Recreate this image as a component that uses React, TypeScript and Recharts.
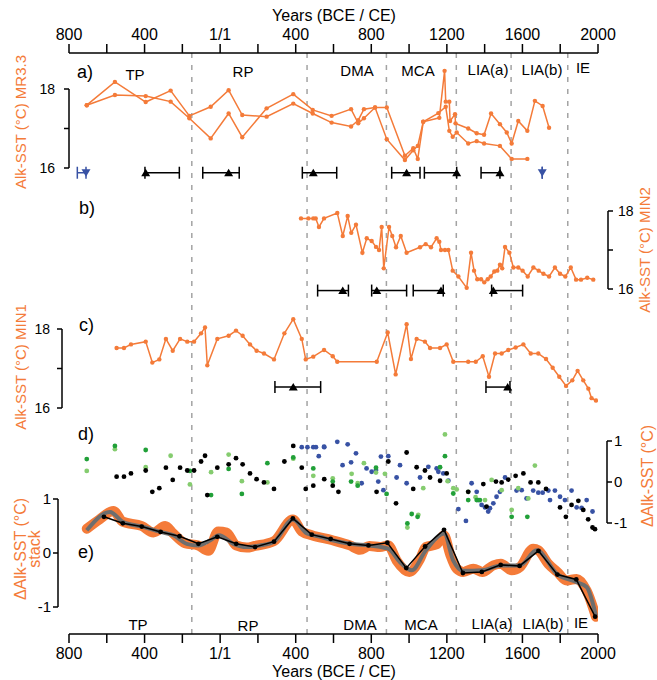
import React from "react";
import {
  ComposedChart,
  ErrorBar,
  Line,
  ReferenceLine,
  Scatter,
  XAxis,
  YAxis,
} from "recharts";

const FONT = '"Liberation Sans", Arial, Helvetica, sans-serif';
const ORANGE = "#f47b39";
const GRAY = "#6e6e6e";
const DASH = "#a3a3a3";
const BLUE = "#3852a4";
const DKGREEN = "#21a038";
const LTGREEN = "#85cc6f";

// frame (pixels)
const W = 657;
const H = 680;
const PLOT_TOP = 53;
const PLOT_BOTTOM = 634;
const PLOT_LEFT = 69;
const PLOT_RIGHT = 598;
const X_MIN = -800;
const X_MAX = 2000;
const PX_PER_YEAR = (PLOT_RIGHT - PLOT_LEFT) / (X_MAX - X_MIN);

// y axis ids; recharts stacks side axes in id order, so the names keep them in place
const AX_A = "l1";
const AX_C = "l2";
const AX_E = "l3";
const AX_SP = "r1";
const AX_D = "r2";
const AX_B = "r3";

// period boundaries (years CE)
const boundaries = [-150, 460, 880, 1250, 1540, 1840];
const xTicks = [-800, -600, -400, -200, 0, 200, 400, 600, 800, 1000, 1200, 1400, 1600, 1800, 2000];

// a) MR3.3, two age models
const mr33A = [
  [-706, 17.59], [-557, 18.18], [-394, 17.67], [-262, 17.96], [-163, 17.32], [-50, 17.55],
  [45, 17.97], [117, 17.34], [246, 17.3], [387, 17.63], [490, 17.38], [590, 17.15],
  [693, 17.05], [731, 17.21], [761, 17.49], [820, 17.53], [882, 17.53], [978, 16.31],
  [1022, 16.5], [1046, 16.23], [1075, 17.17], [1160, 17.27], [1188, 18.46], [1194, 17.68],
  [1213, 17.68], [1217, 17.19], [1243, 17.36], [1246, 17.13], [1313, 17.0], [1358, 16.88],
  [1397, 16.84], [1434, 17.38], [1481, 17.11], [1517, 16.9], [1543, 16.62], [1578, 17.19],
  [1626, 16.94], [1666, 17.7], [1707, 17.57], [1741, 17.02],
];
const mr33B = [
  [-706, 17.59], [-557, 17.85], [-394, 17.82], [-262, 17.68], [-163, 17.26], [-50, 16.75],
  [45, 17.38], [117, 16.78], [246, 17.51], [387, 17.87], [490, 17.47], [590, 17.32],
  [693, 17.49], [731, 17.13], [761, 17.26], [820, 17.53], [882, 16.73], [978, 16.2],
  [1022, 16.45], [1046, 16.56], [1075, 17.17], [1155, 17.39], [1194, 17.55], [1213, 16.94],
  [1231, 16.79], [1252, 16.9], [1313, 16.62], [1358, 16.68], [1397, 16.62], [1481, 16.56],
  [1543, 16.23], [1626, 16.23],
];
// age control points: [year, minus, plus]
const agesA = [[-394, 4, 178], [45, 137, 56], [493, 58, 124], [987, 79, 71], [1252, 171, 0], [1481, 100, 0]];
const agesABlue = [[-710, 46, 0], [1705, 0, 0]];

// b) MIN2
const min2 = [
  [428, 17.81], [467, 17.81], [493, 17.81], [506, 17.81], [523, 17.59], [550, 17.81],
  [620, 17.95], [649, 17.36], [675, 17.87], [694, 17.44], [719, 17.65], [753, 16.93],
  [776, 17.3], [802, 17.23], [825, 17.08], [841, 17.0], [855, 17.59], [866, 16.53],
  [894, 17.59], [911, 17.36], [931, 17.07], [956, 17.36], [987, 16.93], [1058, 17.07],
  [1088, 17.15], [1116, 17.07], [1146, 17.3], [1160, 17.21], [1169, 17.0], [1190, 17.0],
  [1208, 17.0], [1231, 16.47], [1261, 16.32], [1305, 16.03], [1328, 16.93], [1344, 16.47],
  [1361, 16.25], [1381, 16.25], [1398, 16.17], [1416, 16.25], [1432, 16.32], [1451, 16.45],
  [1467, 16.47], [1481, 16.62], [1493, 16.53], [1508, 17.08], [1531, 16.93], [1552, 16.55],
  [1578, 16.55], [1601, 16.47], [1628, 16.32], [1658, 16.55], [1686, 16.47], [1711, 16.39],
  [1741, 16.32], [1772, 16.55], [1799, 16.39], [1827, 16.32], [1856, 16.55], [1884, 16.24],
  [1910, 16.24], [1943, 16.29], [1975, 16.24],
];
const agesB = [[649, 133, 30], [829, 27, 158], [1169, 147, 12], [1446, 9, 155]];

// c) MIN1
const min1 = [
  [-548, 17.52], [-509, 17.52], [-472, 17.61], [-394, 17.68], [-359, 17.15], [-322, 17.23],
  [-287, 17.75], [-251, 17.45], [-212, 17.75], [-174, 17.68], [-138, 17.68], [-101, 17.89],
  [-80, 18.04], [-68, 17.08], [-15, 17.75], [45, 17.83], [84, 17.96], [119, 17.83],
  [158, 17.61], [193, 17.45], [232, 17.38], [285, 17.23], [340, 17.89], [387, 18.25],
  [432, 17.75], [453, 17.23], [493, 17.3], [550, 17.47], [596, 17.31], [620, 17.17],
  [829, 17.17], [887, 17.91], [929, 16.85], [987, 18.12], [1010, 17.24], [1040, 17.75],
  [1084, 17.68], [1111, 17.52], [1164, 17.52], [1199, 17.61], [1234, 17.17], [1313, 17.17],
  [1353, 17.17], [1390, 17.31], [1423, 16.79], [1455, 17.38], [1490, 17.38], [1525, 17.47],
  [1564, 17.53], [1605, 17.61], [1644, 17.38], [1684, 17.38], [1725, 17.24], [1760, 17.02],
  [1795, 16.79], [1831, 16.56], [1864, 16.7], [1892, 16.94], [1922, 16.7], [1949, 16.49],
  [1966, 16.25], [1989, 16.19],
];
const agesC = [[387, 97, 145], [1522, 115, 12]];

// d) anomalies of the individual records
const anomBlack = [
  [-548, 0.13], [-509, 0.13], [-472, 0.21], [-394, 0.28], [-359, -0.24], [-322, -0.15],
  [-287, 0.35], [-251, 0.05], [-212, 0.35], [-174, 0.28], [-138, 0.28], [-101, 0.5],
  [-80, 0.64], [-68, -0.32], [-15, 0.35], [45, 0.43], [84, 0.58], [119, 0.43], [158, 0.21],
  [193, 0.07], [232, -0.01], [285, -0.17], [340, 0.5], [387, 0.88], [432, 0.35], [453, -0.17],
  [493, -0.09], [551, 0.07], [596, -0.09], [626, -0.24], [828, -0.24], [890, 0.5],
  [931, -0.52], [987, 0.72], [1022, -0.17], [1040, 0.36], [1084, 0.28], [1111, 0.11],
  [1164, 0.03], [1199, 0.21], [1313, -0.24], [1393, -0.05], [1410, -0.6], [1460, 0.01],
  [1490, -0.01], [1525, 0.06], [1564, 0.15], [1605, 0.21], [1643, -0.01], [1684, -0.01],
  [1725, -0.17], [1799, -0.62], [1830, -0.85], [1860, -0.56], [1896, -0.46], [1922, -0.68],
  [1948, -0.91], [1971, -1.11], [1984, -1.15],
];
const anomDkGreen = [
  [-706, 0.56], [-557, 0.88], [-394, 0.78], [-160, 0.27], [-48, -0.32], [45, 0.32],
  [115, -0.29], [250, 0.46], [387, 0.6], [493, 0.33], [596, 0.01], [693, 0.01], [728, -0.09],
  [825, 0.35], [881, -0.29], [991, -1.01], [1014, -0.78], [1045, -0.85], [1164, 0.36],
  [1190, 0.63], [1234, -0.28], [1313, -0.44], [1358, -0.44], [1375, -0.44], [1543, -0.85],
  [1626, -0.85],
];
const anomLtGreen = [
  [-706, 0.27], [-557, 0.8], [-394, 0.36], [-262, 0.64], [-160, -0.06], [-48, 0.24],
  [45, 0.67], [115, 0.02], [250, -0.01], [387, 0.57], [493, 0.15], [596, 0.09], [696, 0.2],
  [728, -0.03], [761, 0.46], [825, 0.23], [872, 0.2], [991, -1.11], [1049, -0.8], [1075, -0.15],
  [1190, 1.16], [1204, 0.02], [1234, -0.15], [1252, -0.18], [1313, -0.24], [1352, -0.37],
  [1402, -0.44], [1437, 0.05], [1490, -0.2], [1543, -0.68], [1578, -0.15], [1631, -0.4],
  [1666, 0.4],
];
const anomBlue = [
  [432, 0.85], [462, 0.85], [493, 0.85], [507, 0.85], [522, 0.63], [551, 0.85], [550, 0.86],
  [620, 0.98], [648, 0.41], [675, 0.92], [693, 0.48], [719, 0.7], [749, -0.03], [775, 0.33],
  [802, 0.25], [825, 0.29], [837, 0.01], [851, 0.62], [864, -0.2], [890, 0.63], [934, 0.11],
  [952, 0.41], [987, -0.03], [1058, 0.11], [1102, 0.37], [1146, 0.33], [1155, 0.25],
  [1181, 0.21], [1208, 0.03], [1261, -0.66], [1301, -0.95], [1331, -0.03], [1358, -0.24],
  [1366, -0.44], [1384, -0.56], [1402, -0.62], [1419, -0.72], [1428, -0.64], [1446, -0.52],
  [1463, -0.36], [1481, -0.24], [1508, 0.11], [1569, -0.21], [1596, -0.2], [1622, -0.4],
  [1657, -0.21], [1684, -0.26], [1707, -0.26], [1737, -0.21], [1746, -0.44], [1772, -0.21],
  [1799, -0.36], [1825, -0.44], [1860, -0.21], [1887, -0.62], [1913, -0.63], [1940, -0.44],
  [1971, -0.72],
];

// e) stack
const stackBand = [
  [-706, 0.45], [-640, 0.62], [-565, 0.78], [-516, 0.58], [-415, 0.5], [-353, 0.38],
  [-291, 0.5], [-248, 0.36], [-186, 0.18], [-116, 0.14], [-63, 0.04], [-10, 0.4], [34, 0.38],
  [84, 0.14], [140, 0.1], [184, 0.13], [285, 0.22], [385, 0.62], [432, 0.4], [485, 0.33],
  [590, 0.24], [687, 0.14], [740, 0.06], [790, 0.13], [846, 0.11], [890, 0.14], [934, -0.14],
  [1001, -0.35], [1058, -0.11], [1089, 0.11], [1146, 0.16], [1185, 0.33], [1216, -0.01],
  [1252, -0.29], [1287, -0.35], [1340, -0.29], [1388, -0.35], [1446, -0.23], [1486, -0.2],
  [1543, -0.32], [1587, -0.26], [1657, 0.08], [1684, 0.05], [1737, -0.2], [1784, -0.35],
  [1834, -0.51], [1887, -0.48], [1940, -0.7], [1989, -1.18],
];
const stackSmooth = [
  [-706, 0.42], [-583, 0.76], [-516, 0.58], [-415, 0.49], [-315, 0.39], [-248, 0.33],
  [-177, 0.17], [-116, 0.14], [-54, 0.23], [-6, 0.33], [70, 0.17], [140, 0.11], [210, 0.14],
  [285, 0.21], [385, 0.62], [460, 0.36], [530, 0.3], [590, 0.24], [687, 0.17], [790, 0.14],
  [890, 0.08], [952, -0.17], [1014, -0.32], [1089, 0.05], [1185, 0.36], [1234, -0.14],
  [1287, -0.33], [1388, -0.32], [1486, -0.23], [1587, -0.23], [1675, 0.05], [1784, -0.39],
  [1887, -0.54], [1940, -0.63], [1989, -1.16],
];
const stackMean = [
  [-615, 0.67], [-515, 0.55], [-415, 0.49], [-315, 0.39], [-215, 0.31], [-115, 0.17],
  [-15, 0.3], [85, 0.17], [185, 0.11], [285, 0.21], [385, 0.64], [485, 0.34], [585, 0.26],
  [685, 0.17], [785, 0.14], [885, 0.19], [985, -0.28], [1085, 0.12], [1185, 0.43],
  [1285, -0.37], [1385, -0.35], [1485, -0.22], [1585, -0.24], [1685, 0.04], [1785, -0.4],
  [1885, -0.49], [1985, -1.18],
];

const pts = (rows: number[][]) => rows.map(([x, y]) => ({ x, y }));
const ages = (rows: number[][], row: number) =>
  rows.map(([x, lo, hi]) => ({ x, y: row, err: [lo, hi] }));

// map a value range onto a vertical pixel band of the shared plot
function bandDomain(vTop: number, yTop: number, vBot: number, yBot: number): [number, number] {
  const k = (vTop - vBot) / (yBot - yTop);
  return [vBot - (PLOT_BOTTOM - yBot) * k, vTop + (yTop - PLOT_TOP) * k];
}
const domA = bandDomain(18, 89, 16, 168);
const domB = bandDomain(18, 211, 16, 289);
const domC = bandDomain(18, 329, 16, 408);
const domD = bandDomain(1, 441, -1, 523);
const domE = bandDomain(1, 499, -1, 607);

// x position (in years) of an axis line that sits `px` outside the plot
const leftOf = (px: number) => X_MIN - px / PX_PER_YEAR;
const rightOf = (px: number) => X_MAX + px / PX_PER_YEAR;

const yearLabel = (v: number) =>
  v % 400 !== 0 ? "" : v < 0 ? String(-v) : v === 0 ? "1/1" : String(v);
const tempLabel = (v: number) => (v === 17 ? "" : String(v));

const triUp = (p: any) => (
  <polygon
    points={`${p.cx - 4.5},${p.cy + 3.5} ${p.cx + 4.5},${p.cy + 3.5} ${p.cx},${p.cy - 4}`}
    fill="#000"
  />
);
const triDown = (p: any) => (
  <polygon
    points={`${p.cx - 4.5},${p.cy - 3.5} ${p.cx + 4.5},${p.cy - 3.5} ${p.cx},${p.cy + 4}`}
    fill={BLUE}
  />
);
const dotOf = (color: string) => (p: any) => <circle cx={p.cx} cy={p.cy} r={2.4} fill={color} />;

const axisStroke = { stroke: "#000", strokeWidth: 1.5 };
const orangeDot = { r: 2.2, fill: ORANGE, stroke: ORANGE, strokeWidth: 0 };

const periodTop = [
  ["TP", 135, 80], ["RP", 243, 77], ["DMA", 357, 76], ["MCA", 418, 76],
  ["LIA(a)", 488, 75], ["LIA(b)", 542, 75], ["IE", 583, 73],
];
const periodBottom = [
  ["TP", 138, 630], ["RP", 248, 631], ["DMA", 360, 630], ["MCA", 421, 630],
  ["LIA(a)", 492, 629], ["LIA(b)", 543, 629], ["IE", 581, 628],
];
const panelLetters = [["a)", 77, 78], ["b)", 79, 214], ["c)", 79, 331], ["d)", 78, 440], ["e)", 78, 558]];

export default function App() {
  const seg = (id: string, x: number, lo: number, hi: number) => (
    <ReferenceLine
      key={`ax-${id}`}
      xAxisId="bottom"
      yAxisId={id}
      segment={[{ x, y: lo }, { x, y: hi }]}
      stroke="#000"
      strokeWidth={1.5}
      ifOverflow="visible"
    />
  );

  return (
    <div style={{ position: "absolute", left: 0, top: 0, width: W, height: H, fontFamily: FONT, background: "#fff" }}>
      <ComposedChart width={W} height={H} margin={{ top: 0, right: 0, bottom: 0, left: 0 }}>
        <XAxis
          xAxisId="top"
          orientation="top"
          type="number"
          dataKey="x"
          domain={[X_MIN, X_MAX]}
          allowDataOverflow
          ticks={xTicks}
          interval={0}
          tickFormatter={yearLabel}
          height={PLOT_TOP}
          tickSize={9}
          tickMargin={4}
          axisLine={axisStroke}
          tickLine={axisStroke}
          tick={{ fill: "#000", fontSize: 16 }}
        />
        <XAxis
          xAxisId="bottom"
          orientation="bottom"
          type="number"
          dataKey="x"
          domain={[X_MIN, X_MAX]}
          allowDataOverflow
          ticks={xTicks}
          interval={0}
          tickFormatter={yearLabel}
          height={H - PLOT_BOTTOM}
          tickSize={9}
          tickMargin={5}
          axisLine={axisStroke}
          tickLine={axisStroke}
          tick={{ fill: "#000", fontSize: 16 }}
        />

        <YAxis yAxisId={AX_A} dataKey="y" type="number" domain={domA} allowDataOverflow width={7}
          ticks={[16, 17, 18]} interval={0} tickFormatter={tempLabel} axisLine={false}
          tickLine={axisStroke} tickSize={5} tickMargin={9} tick={{ fill: "#000", fontSize: 14 }} />
        <YAxis yAxisId={AX_C} dataKey="y" type="number" domain={domC} allowDataOverflow width={4}
          ticks={[16, 17, 18]} interval={0} tickFormatter={tempLabel} axisLine={false}
          tickLine={axisStroke} tickSize={5} tickMargin={7} tick={{ fill: "#000", fontSize: 14 }} />
        <YAxis yAxisId={AX_E} dataKey="y" type="number" domain={domE} allowDataOverflow width={58}
          ticks={[-1, 0, 1]} interval={0} axisLine={false}
          tickLine={axisStroke} tickSize={5} tickMargin={2} tick={{ fill: "#000", fontSize: 15 }} />

        <YAxis yAxisId={AX_SP} orientation="right" type="number" domain={[0, 1]} width={9}
          tick={false} axisLine={false} tickLine={false} />
        <YAxis yAxisId={AX_D} orientation="right" dataKey="y" type="number" domain={domD} allowDataOverflow width={1}
          ticks={[-1, 0, 1]} interval={0} axisLine={false}
          tickLine={axisStroke} tickSize={5} tickMargin={2} tick={{ fill: "#000", fontSize: 15 }} />
        <YAxis yAxisId={AX_B} orientation="right" dataKey="y" type="number" domain={domB} allowDataOverflow width={49}
          ticks={[16, 17, 18]} interval={0} tickFormatter={tempLabel} axisLine={false}
          tickLine={axisStroke} tickSize={5} tickMargin={5} tick={{ fill: "#000", fontSize: 14 }} />

        {boundaries.map((b) => (
          <ReferenceLine key={`p${b}`} x={b} xAxisId="bottom" yAxisId={AX_A} stroke={DASH}
            strokeWidth={1.5} strokeDasharray="5 7" />
        ))}

        {seg(AX_A, leftOf(0), 16, 18)}
        {seg(AX_C, leftOf(7), 16, 18)}
        {seg(AX_E, leftOf(11), -1, 1)}
        {seg(AX_D, rightOf(9), -1, 1)}
        {seg(AX_B, rightOf(10), 16, 18)}

        {/* a) */}
        <Line data={pts(mr33A)} dataKey="y" xAxisId="bottom" yAxisId={AX_A} stroke={ORANGE}
          strokeWidth={1.5} dot={orangeDot} isAnimationActive={false} />
        <Line data={pts(mr33B)} dataKey="y" xAxisId="bottom" yAxisId={AX_A} stroke={ORANGE}
          strokeWidth={1.5} dot={orangeDot} isAnimationActive={false} />
        <Scatter data={ages(agesA, 15.88)} dataKey="y" xAxisId="bottom" yAxisId={AX_A} shape={triUp} isAnimationActive={false}>
          <ErrorBar dataKey="err" direction="x" width={6} stroke="#000" strokeWidth={1.5} isAnimationActive={false} />
        </Scatter>
        <Scatter data={ages(agesABlue, 15.88)} dataKey="y" xAxisId="bottom" yAxisId={AX_A} shape={triDown} isAnimationActive={false}>
          <ErrorBar dataKey="err" direction="x" width={6} stroke={BLUE} strokeWidth={1.5} isAnimationActive={false} />
        </Scatter>

        {/* b) */}
        <Line data={pts(min2)} dataKey="y" xAxisId="bottom" yAxisId={AX_B} stroke={ORANGE}
          strokeWidth={1.5} dot={orangeDot} isAnimationActive={false} />
        <Scatter data={ages(agesB, 15.96)} dataKey="y" xAxisId="bottom" yAxisId={AX_B} shape={triUp} isAnimationActive={false}>
          <ErrorBar dataKey="err" direction="x" width={6} stroke="#000" strokeWidth={1.5} isAnimationActive={false} />
        </Scatter>

        {/* c) */}
        <Line data={pts(min1)} dataKey="y" xAxisId="bottom" yAxisId={AX_C} stroke={ORANGE}
          strokeWidth={1.5} dot={orangeDot} isAnimationActive={false} />
        <Scatter data={ages(agesC, 16.53)} dataKey="y" xAxisId="bottom" yAxisId={AX_C} shape={triUp} isAnimationActive={false}>
          <ErrorBar dataKey="err" direction="x" width={6} stroke="#000" strokeWidth={1.5} isAnimationActive={false} />
        </Scatter>

        {/* d) */}
        <Scatter data={pts(anomBlue)} dataKey="y" xAxisId="bottom" yAxisId={AX_D} shape={dotOf(BLUE)} isAnimationActive={false} />
        <Scatter data={pts(anomLtGreen)} dataKey="y" xAxisId="bottom" yAxisId={AX_D} shape={dotOf(LTGREEN)} isAnimationActive={false} />
        <Scatter data={pts(anomDkGreen)} dataKey="y" xAxisId="bottom" yAxisId={AX_D} shape={dotOf(DKGREEN)} isAnimationActive={false} />
        <Scatter data={pts(anomBlack)} dataKey="y" xAxisId="bottom" yAxisId={AX_D} shape={dotOf("#000")} isAnimationActive={false} />

        {/* e) */}
        <Line data={pts(stackBand)} dataKey="y" xAxisId="bottom" yAxisId={AX_E} type="monotone" stroke={ORANGE}
          strokeWidth={10} strokeLinecap="round" strokeLinejoin="round" dot={false} isAnimationActive={false} />
        <Line data={pts(stackSmooth)} dataKey="y" xAxisId="bottom" yAxisId={AX_E} type="monotone" stroke={GRAY}
          strokeWidth={4} dot={false} isAnimationActive={false} />
        <Line data={pts(stackMean)} dataKey="y" xAxisId="bottom" yAxisId={AX_E} stroke="#000"
          strokeWidth={1.5} dot={{ r: 2.4, fill: "#000", stroke: "#000", strokeWidth: 0 }} isAnimationActive={false} />
      </ComposedChart>

      <svg width={W} height={H} style={{ position: "absolute", left: 0, top: 0, pointerEvents: "none" }} fontFamily={FONT}>
        <text x={334} y={21} fontSize={16} textAnchor="middle">Years (BCE / CE)</text>
        <text x={334} y={677} fontSize={16} textAnchor="middle">Years (BCE / CE)</text>
        {periodTop.map(([t, x, y]) => (
          <text key={`t${t}`} x={x} y={y} fontSize={15} textAnchor="middle">{t}</text>
        ))}
        {periodBottom.map(([t, x, y]) => (
          <text key={`b${t}`} x={x} y={y} fontSize={15} textAnchor="middle">{t}</text>
        ))}
        {panelLetters.map(([t, x, y]) => (
          <text key={`l${t}`} x={x} y={y} fontSize={18}>{t}</text>
        ))}
        <g fill={ORANGE} fontSize={15} textAnchor="middle">
          <text transform="translate(26,122) rotate(-90)">Alk-SST (°C) MR3.3</text>
          <text transform="translate(26,367) rotate(-90)">Alk-SST (°C) MIN1</text>
          <text transform="translate(650,250) rotate(-90)">Alk-SST (°C) MIN2</text>
          <text transform="translate(653,476) rotate(-90)" fontSize={16}>ΔAlk-SST (°C)</text>
          <text transform="translate(26,549) rotate(-90)" fontSize={16}>ΔAlk-SST (°C)</text>
          <text transform="translate(40,549) rotate(-90)" fontSize={16}>stack</text>
        </g>
      </svg>
    </div>
  );
}
